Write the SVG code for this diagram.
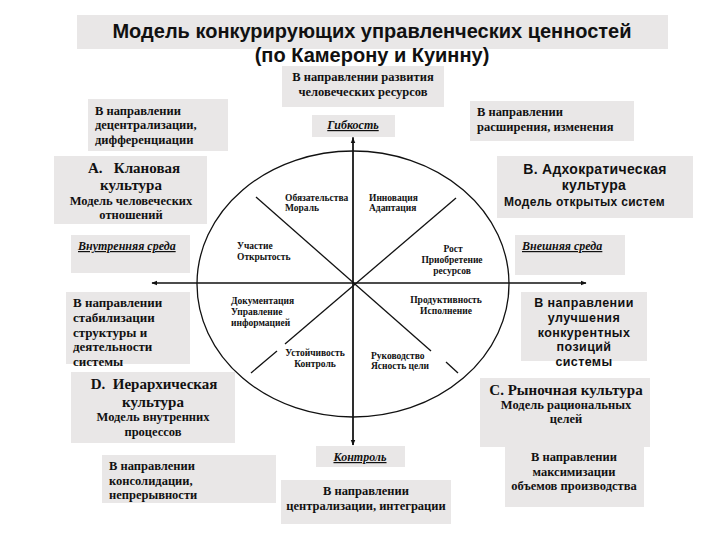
<svg xmlns="http://www.w3.org/2000/svg" width="720" height="540" viewBox="0 0 720 540">
<defs>
<style>
.box{fill:#e9e7e7}
.t{fill:#111;font-family:"Liberation Serif","Times New Roman",Tinos,"DejaVu Serif","Noto Serif",serif;font-weight:bold}
.s{fill:#111;font-family:"Liberation Sans",Arial,"DejaVu Sans",sans-serif;font-weight:bold}
.d{font-size:12.5px}
.c{font-size:9.5px}
.m{text-anchor:middle}
.u{font-style:italic;text-decoration:underline;font-size:12px}
.ln{stroke:#111;stroke-width:1.3;fill:none}
</style>
<marker id="ah" viewBox="0 0 10 10" refX="9" refY="5" markerWidth="6" markerHeight="6" orient="auto" markerUnits="userSpaceOnUse">
<path d="M0,1 L10,5 L0,9 z" fill="#111"/>
</marker>
</defs>
<rect width="720" height="540" fill="#fff"/>

<g id="title">
<rect class="box" x="77" y="15" width="591" height="34" fill="#ebe9e9"/>
<text class="s m" x="372" y="38" font-size="20">Модель конкурирующих управленческих ценностей</text>
<text class="s m" x="372" y="62" font-size="20">(по Камерону и Куинну)</text>
</g>

<g id="connectors">
<ellipse class="ln" cx="353" cy="284" rx="156" ry="133"/>
<line class="ln" x1="353" y1="445" x2="353" y2="138" marker-end="url(#ah)"/>
<line class="ln" x1="353" y1="137" x2="353" y2="445" marker-end="url(#ah)"/>
<line class="ln" x1="509" y1="283" x2="586" y2="283" marker-end="url(#ah)"/>
<line class="ln" x1="197" y1="283" x2="152" y2="283" marker-end="url(#ah)"/>
<line class="ln" x1="197" y1="283" x2="509" y2="283"/>
<line class="ln" x1="256" y1="197" x2="431" y2="351"/>
<line class="ln" x1="446" y1="362" x2="458" y2="373"/>
<line class="ln" x1="456" y1="198" x2="285" y2="344"/>
<line class="ln" x1="277" y1="351" x2="251" y2="373"/>
</g>

<g id="top-dir">
<rect class="box" x="282" y="66" width="162" height="41"/>
<text class="t d m" x="363" y="81">В направлении развития</text>
<text class="t d m" x="363" y="96">человеческих ресурсов</text>
</g>

<g id="flex">
<rect class="box" x="312" y="115" width="83" height="22"/>
<text class="t u m" x="353" y="129">Гибкость</text>
</g>

<g id="left-top-dir">
<rect class="box" x="88" y="99" width="140" height="52"/>
<text class="t d" x="95" y="115">В направлении</text>
<text class="t d" x="95" y="129">децентрализации,</text>
<text class="t d" x="95" y="144">дифференциации</text>
</g>

<g id="right-top-dir">
<rect class="box" x="470" y="101" width="164" height="40"/>
<text class="t d" x="477" y="116">В направлении</text>
<text class="t d" x="477" y="131">расширения, изменения</text>
</g>

<g id="clan">
<rect class="box" x="54" y="156" width="153" height="68"/>
<text class="t" x="88" y="173" font-size="15" xml:space="preserve">А.   Клановая</text>
<text class="t m" x="131" y="190" font-size="15">культура</text>
<text class="t d m" x="131" y="205">Модель человеческих</text>
<text class="t d m" x="131" y="219">отношений</text>
</g>

<g id="adhocracy">
<rect class="box" x="497" y="156" width="196" height="62"/>
<text class="s m" x="595" y="174" font-size="14" letter-spacing="0.3">В. Адхократическая</text>
<text class="s m" x="594" y="190" font-size="14" letter-spacing="0.3">культура</text>
<text class="s" x="504" y="206" font-size="12" letter-spacing="0.3">Модель открытых систем</text>
</g>

<g id="internal">
<rect class="box" x="71" y="235" width="119" height="38"/>
<text class="t u" x="78" y="250">Внутренняя среда</text>
</g>

<g id="external">
<rect class="box" x="515" y="235" width="110" height="40"/>
<text class="t u" x="522" y="250">Внешняя среда</text>
</g>

<g id="stabilization">
<rect class="box" x="66" y="292" width="124" height="72"/>
<text class="t" x="73" y="307" font-size="13">В направлении</text>
<text class="t" x="73" y="322" font-size="13">стабилизации</text>
<text class="t" x="73" y="337" font-size="13">структуры и</text>
<text class="t" x="73" y="351" font-size="13">деятельности</text>
<text class="t" x="73" y="366" font-size="13">системы</text>
</g>

<g id="competition">
<rect class="box" x="521" y="292" width="126" height="69"/>
<text class="s m" x="584" y="307" font-size="12.5" letter-spacing="0.4">В направлении</text>
<text class="s m" x="584" y="322" font-size="12.5" letter-spacing="0.4">улучшения</text>
<text class="s m" x="584" y="337" font-size="12.5" letter-spacing="0.4">конкурентных</text>
<text class="s m" x="584" y="351" font-size="12.5" letter-spacing="0.4">позиций</text>
<text class="s m" x="584" y="366" font-size="12.5" letter-spacing="0.4">системы</text>
</g>

<g id="hierarchy">
<rect class="box" x="71" y="372" width="164" height="71"/>
<text class="t m" x="154" y="389" font-size="15" xml:space="preserve">D.  Иерархическая</text>
<text class="t m" x="153" y="407" font-size="15">культура</text>
<text class="t d m" x="153" y="421">Модель внутренних</text>
<text class="t d m" x="153" y="436">процессов</text>
</g>

<g id="market">
<rect class="box" x="480" y="378" width="170" height="69"/>
<text class="t m" x="566" y="395" font-size="15">С. Рыночная культура</text>
<text class="t d m" x="566" y="409">Модель рациональных</text>
<text class="t d m" x="566" y="423">целей</text>
</g>

<g id="maximization">
<rect class="box" x="505" y="447" width="139" height="60"/>
<text class="t d m" x="574" y="461">В направлении</text>
<text class="t d m" x="574" y="476">максимизации</text>
<text class="t d m" x="574" y="490">объемов производства</text>
</g>

<g id="control">
<rect class="box" x="316" y="446" width="89" height="21"/>
<text class="t u m" x="360" y="461">Контроль</text>
</g>

<g id="consolidation">
<rect class="box" x="102" y="455" width="174" height="48"/>
<text class="t d" x="109" y="470">В направлении</text>
<text class="t d" x="109" y="485">консолидации,</text>
<text class="t d" x="109" y="499">непрерывности</text>
</g>

<g id="centralization">
<rect class="box" x="281" y="480" width="170" height="44"/>
<text class="t d m" x="366" y="495">В направлении</text>
<text class="t d m" x="366" y="510">централизации, интеграции</text>
</g>

<g id="values">
<text class="t c" x="285" y="201">Обязательства</text>
<text class="t c" x="285" y="211">Мораль</text>
<text class="t c" x="369" y="201">Инновация</text>
<text class="t c" x="369" y="211">Адаптация</text>
<text class="t c" x="237" y="249">Участие</text>
<text class="t c" x="237" y="260">Открытость</text>
<text class="t c m" x="453" y="252">Рост</text>
<text class="t c m" x="452" y="263">Приобретение</text>
<text class="t c m" x="452" y="274">ресурсов</text>
<text class="t c" x="231" y="304">Документация</text>
<text class="t c" x="231" y="315">Управление</text>
<text class="t c" x="231" y="326">информацией</text>
<text class="t c m" x="446" y="303">Продуктивность</text>
<text class="t c m" x="446" y="314">Исполнение</text>
<text class="t c m" x="315" y="356">Устойчивость</text>
<text class="t c m" x="315" y="367">Контроль</text>
<text class="t c" x="371" y="359">Руководство</text>
<text class="t c" x="371" y="369">Ясность цели</text>
</g>
</svg>
